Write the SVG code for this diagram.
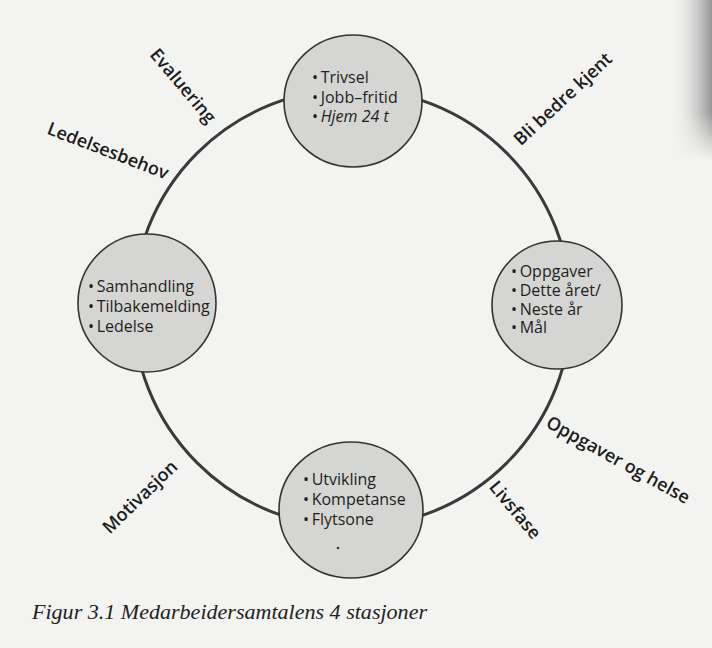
<svg xmlns="http://www.w3.org/2000/svg" width="712" height="648" viewBox="0 0 712 648">
  <defs>
    <linearGradient id="edgeShade" x1="0" y1="0" x2="1" y2="0">
      <stop offset="0" stop-color="#f3f3f1" stop-opacity="0"/>
      <stop offset="0.6" stop-color="#b8b8b8" stop-opacity="0.6"/>
      <stop offset="1" stop-color="#8a8a8a" stop-opacity="0.9"/>
    </linearGradient>
    <linearGradient id="edgeFade" x1="0" y1="0" x2="0" y2="1">
      <stop offset="0" stop-color="#fff" stop-opacity="1"/>
      <stop offset="0.7" stop-color="#fff" stop-opacity="1"/>
      <stop offset="1" stop-color="#fff" stop-opacity="0"/>
    </linearGradient>
    <mask id="fadeMask">
      <rect x="670" y="0" width="42" height="160" fill="url(#edgeFade)"/>
    </mask>
  </defs>
  <style>
    .ring { fill: none; stroke: #3a3a3a; stroke-width: 3; }
    .node { fill: #d5d5d3; stroke: #333; stroke-width: 1.6; }
    .item { font-family: "Open Sans", "Noto Sans", sans-serif; font-size: 16px; fill: #1e1e1e; }
    .it { font-style: italic; }
    .phase { font-family: "Open Sans", "Noto Sans", sans-serif; font-size: 18px; font-weight: 600; fill: #1c1c1c; text-anchor: middle; }
    .caption { font-family: "Liberation Serif", "DejaVu Serif", serif; font-size: 20px; font-style: italic; fill: #222; }
  </style>

  <!-- paper -->
  <rect x="0" y="0" width="712" height="648" fill="#f3f3f1"/>
  <rect x="670" y="0" width="42" height="160" fill="url(#edgeShade)" mask="url(#fadeMask)"/>

  <!-- cycle ring linking the four stations -->
  <g id="connectors">
    <circle class="ring" cx="352" cy="308" r="219"/>
  </g>

  <!-- station: top -->
  <g id="node-trivsel">
    <ellipse class="node" cx="353" cy="101" rx="69" ry="66"/>
    <text class="item" x="312" y="83">•&#8201;Trivsel</text>
    <text class="item" x="312" y="103">•&#8201;Jobb–fritid</text>
    <text class="item" x="312" y="122">•&#8201;<tspan class="it">Hjem 24 t</tspan></text>
  </g>

  <!-- station: right -->
  <g id="node-oppgaver">
    <ellipse class="node" cx="557" cy="305" rx="65" ry="64"/>
    <text class="item" x="511" y="277">•&#8201;Oppgaver</text>
    <text class="item" x="511" y="296">•&#8201;Dette året/</text>
    <text class="item" x="511" y="315">•&#8201;Neste år</text>
    <text class="item" x="511" y="333">•&#8201;Mål</text>
  </g>

  <!-- station: left -->
  <g id="node-samhandling">
    <circle class="node" cx="147" cy="303" r="69"/>
    <text class="item" x="88" y="292">•&#8201;Samhandling</text>
    <text class="item" x="88" y="312">•&#8201;Tilbakemelding</text>
    <text class="item" x="88" y="332">•&#8201;Ledelse</text>
  </g>

  <!-- station: bottom -->
  <g id="node-utvikling">
    <ellipse class="node" cx="351" cy="510" rx="72" ry="68"/>
    <text class="item" x="303" y="485">•&#8201;Utvikling</text>
    <text class="item" x="303" y="505">•&#8201;Kompetanse</text>
    <text class="item" x="303" y="525">•&#8201;Flytsone</text>
    <circle cx="338" cy="548" r="1.3" fill="#333"/>
  </g>

  <!-- phase labels around the ring -->
  <g id="labels">
    <text class="phase" transform="translate(183 86) rotate(50)" x="0" y="6">Evaluering</text>
    <text class="phase" transform="translate(108 151) rotate(21)" x="0" y="6">Ledelsesbehov</text>
    <text class="phase" transform="translate(563 99) rotate(-43)" x="0" y="6">Bli bedre kjent</text>
    <text class="phase" transform="translate(618 460) rotate(29)" x="0" y="6">Oppgaver og helse</text>
    <text class="phase" transform="translate(515 510) rotate(50)" x="0" y="6">Livsfase</text>
    <text class="phase" transform="translate(140 497) rotate(-44)" x="0" y="6">Motivasjon</text>
  </g>

  <text class="caption" x="32" y="619" textLength="395" lengthAdjust="spacingAndGlyphs">Figur 3.1 Medarbeidersamtalens 4 stasjoner</text>
</svg>
